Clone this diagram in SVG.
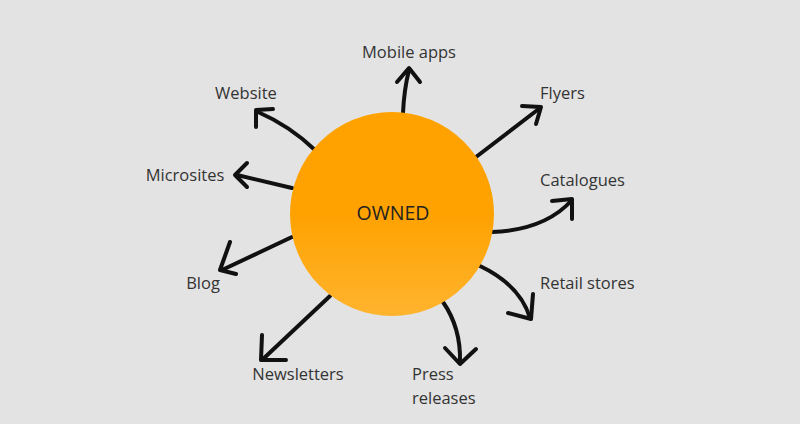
<svg xmlns="http://www.w3.org/2000/svg" width="800" height="424" viewBox="0 0 800 424">
<defs>
<linearGradient id="g" x1="0" y1="0" x2="0" y2="1"><stop offset="0" stop-color="#ffa200"/><stop offset="0.5" stop-color="#ffa200"/><stop offset="1" stop-color="#ffb42e"/></linearGradient>
<style>
.c{fill:none;stroke:#111;stroke-width:4;stroke-linecap:round;stroke-linejoin:round}
.t{font-family:"Open Sans","Liberation Sans",sans-serif;font-size:16.5px;fill:#333}
</style>
</defs>
<rect width="800" height="424" fill="#e3e3e3"/>
<g id="connectors" class="c">
<path d="M403,113 Q404,90 409,70"/><path d="M397,82 L409,68 L420,82"/>
<path d="M315,150 Q290,126 258,112"/><path d="M256,127 L256,110 L273,109"/>
<path d="M476,157 L540,108"/><path d="M522,106 L541,107 L536,124"/>
<path d="M292,188 L237,175"/><path d="M247,163 L235,175 L247,187"/>
<path d="M492,232 Q545,230 572,200"/><path d="M552,201 L572,199 L572,219"/>
<path d="M292,237 L222,270"/><path d="M230,242 L220,270 L236,274"/>
<path d="M480,266 Q520,285 530,318"/><path d="M508,313 L531,319 L533,294"/>
<path d="M330,296 L262,360"/><path d="M262,335 L261,360 L286,360"/>
<path d="M443,302 Q461,328 460,362"/><path d="M445,348 L460,364 L476,349"/>
</g>
<g id="owned"><circle cx="392" cy="214" r="102" fill="url(#g)"/><text class="t" x="393" y="220" text-anchor="middle" style="font-size:19.5px;fill:#222">OWNED</text></g>
<g id="mobile"><text class="t" x="409" y="58" text-anchor="middle">Mobile apps</text></g>
<g id="website"><text class="t" x="246" y="99" text-anchor="middle">Website</text></g>
<g id="flyers"><text class="t" x="540" y="99">Flyers</text></g>
<g id="microsites"><text class="t" x="185" y="181" text-anchor="middle">Microsites</text></g>
<g id="catalogues"><text class="t" x="540" y="186">Catalogues</text></g>
<g id="blog"><text class="t" x="203" y="289" text-anchor="middle">Blog</text></g>
<g id="retail"><text class="t" x="540" y="289">Retail stores</text></g>
<g id="newsletters"><text class="t" x="298" y="380" text-anchor="middle">Newsletters</text></g>
<g id="press"><text class="t" x="412" y="380">Press</text><text class="t" x="412" y="404">releases</text></g>
</svg>
